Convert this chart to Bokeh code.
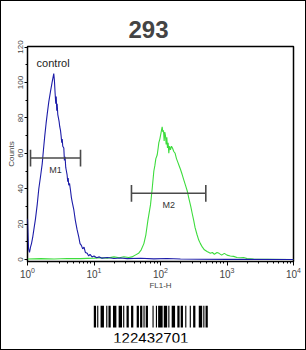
import numpy as np
from bokeh.plotting import figure
from bokeh.layouts import column
from bokeh.models import (ColumnDataSource, Range1d, FixedTicker, SingleIntervalTicker)
from bokeh.core.properties import value
from bokeh.embed import file_html
from bokeh.resources import INLINE

# ---------------- data ----------------
title_text = "293"
x_label = "FL1-H"
y_label = "Counts"
y_ticks = [0, 20, 40, 60, 80, 100, 120]
x_decades = [0, 1, 2, 3, 4]

# control histogram (blue): log10(FL1-H) and counts
control_log10 = [0.000, 0.008, 0.016, 0.03, 0.045, 0.06, 0.08, 0.10, 0.12, 0.146, 0.17, 0.20,
                 0.221, 0.24, 0.26, 0.28, 0.296, 0.32, 0.346, 0.37, 0.395, 0.405, 0.415, 0.425,
                 0.432, 0.44, 0.446, 0.455, 0.465, 0.475, 0.485, 0.496, 0.505, 0.515, 0.522,
                 0.53, 0.546, 0.555, 0.565, 0.575, 0.585, 0.595, 0.605, 0.612, 0.62, 0.632,
                 0.647, 0.66, 0.675, 0.697, 0.72, 0.745, 0.77, 0.79, 0.81, 0.83, 0.85, 0.87,
                 0.898, 0.92, 0.94, 0.97, 1.0, 1.04, 1.08, 1.12, 1.2, 1.3, 1.4, 1.5, 1.7, 1.9,
                 2.1, 2.3, 2.6, 3.0, 4.0]
control_counts = [23, 14, 6, 4, 7, 9, 13, 18, 23, 31, 40, 48,
                  54, 62, 70, 77, 82, 89, 95, 100, 105, 101, 94, 88,
                  92, 84, 88, 82, 80, 78, 75, 73, 70, 66, 68,
                  64, 63, 56, 58, 52, 50, 48, 44, 46, 42, 43,
                  39, 35, 32, 28, 22, 17, 13, 9, 8, 6, 7, 4,
                  3.5, 2, 3, 1.5, 2, 1, 1.5, 0.8, 1.2, 0.6, 0.9, 0.5, 0.7, 0.4,
                  0.6, 0.3, 0.2, 0.1, 0]

# stained sample histogram (green)
sample_log10 = [0.0, 0.2, 0.4, 0.6, 0.8, 1.0, 1.1, 1.2, 1.3, 1.38, 1.45, 1.52, 1.57, 1.62,
                1.67, 1.71, 1.75, 1.78, 1.81, 1.85, 1.875, 1.90, 1.915, 1.93, 1.95, 1.965,
                1.975, 1.99, 2.005, 2.025, 2.035, 2.045, 2.055, 2.065, 2.075, 2.085, 2.095,
                2.105, 2.115, 2.125, 2.135, 2.15, 2.165, 2.18, 2.2, 2.22, 2.24, 2.26, 2.28,
                2.30, 2.326, 2.35, 2.375, 2.40, 2.43, 2.455, 2.477, 2.50, 2.52, 2.55, 2.575,
                2.60, 2.63, 2.66, 2.70, 2.75, 2.78, 2.81, 2.85, 2.88, 2.92, 2.96, 3.0, 3.05,
                3.1, 3.15, 3.2, 3.25, 3.3, 3.4, 3.6, 4.0]
sample_counts = [0.3, 0.5, 0.3, 0.6, 0.5, 0.8, 1.0, 0.8, 1.5, 1.0, 1.6, 1.2, 1.5, 2.5,
                 3.5, 5.5, 9, 14, 22, 31, 40, 50, 53, 57, 59, 63,
                 66, 68, 71, 75, 72, 73, 67, 72, 70, 65, 69,
                 63, 66, 60, 64, 62, 64, 63, 61, 60, 57, 55, 53,
                 51, 48, 45, 42, 39, 34, 30, 26, 22, 18, 14, 11,
                 9, 7, 5.5, 4.5, 3.5, 4, 3, 4, 3.5, 2.5, 3.5, 2.5, 2,
                 1.8, 1.2, 1, 1.2, 0.6, 0.3, 0.2, 0]

marker_names = ["M1", "M2"]
marker_lo = [1.11, 36.6]
marker_hi = [6.27, 480.0]
marker_level = [57.3, 37.4]

control_label = "control"
control_label_x = 1.37
control_label_y = 111

barcode_text = "122432701"
# Code 128 module widths (bar, space, bar, ...) for each symbol
barcode_patterns = ["211232", "112232", "311222", "232121", "112412",
                    "114131", "123221", "221312", "2331112"]

# ---------------- layout constants ----------------
FRAME_L, FRAME_W, FRAME_R = 26, 266, 12
BAR_PX_LEFT, BAR_PX_WIDTH = 66.3, 114.0   # barcode position inside the frame (pixels)

blue = "#1c1ca8"
green = "#3ddc3d"
font = "Liberation Sans"

# ---------------- main plot ----------------
p = figure(width=304, height=294, frame_width=FRAME_W, frame_height=215,
           min_border_left=FRAME_L, min_border_right=FRAME_R, min_border_top=45, min_border_bottom=34,
           x_axis_type="log", x_range=Range1d(1, 10000), y_range=Range1d(-1.1, 120.3),
           output_backend="svg", toolbar_location=None, title=title_text)

p.title.text_font = font
p.title.text_font_size = "24px"
p.title.text_font_style = "bold"
p.title.align = "left"
p.title.offset = 101
p.title.standoff = 17

p.background_fill_color = "white"
p.border_fill_color = "white"
p.outline_line_color = "black"
p.outline_line_width = 1.5
p.xgrid.visible = False
p.ygrid.visible = False

csrc = ColumnDataSource(dict(x=[10 ** v for v in control_log10], y=control_counts))
ssrc = ColumnDataSource(dict(x=[10 ** v for v in sample_log10], y=sample_counts))
p.line("x", "y", source=ssrc, line_color=green, line_width=1.1)
p.line("x", "y", source=csrc, line_color=blue, line_width=1.1)

# markers
half = 4.7
msrc = ColumnDataSource(dict(lo=marker_lo, hi=marker_hi, lev=marker_level,
                             top=[v + half for v in marker_level],
                             bot=[v - half for v in marker_level],
                             mid=[np.sqrt(a * b) for a, b in zip(marker_lo, marker_hi)],
                             ty=[v - 6.5 for v in marker_level],
                             name=marker_names))
p.segment(x0="lo", y0="lev", x1="hi", y1="lev", source=msrc, line_color="#4a4a4a", line_width=1.6)
p.segment(x0="lo", y0="bot", x1="lo", y1="top", source=msrc, line_color="#4a4a4a", line_width=1.6)
p.segment(x0="hi", y0="bot", x1="hi", y1="top", source=msrc, line_color="#4a4a4a", line_width=1.6)
p.text(x="mid", y="ty", text="name", source=msrc, text_font=value(font),
       text_font_size="9px", text_align="center", text_baseline="middle", text_color="#333333")

p.text(x=[control_label_x], y=[control_label_y], text=[control_label], text_font=value(font),
       text_font_size="11px", text_align="left", text_baseline="middle", text_color="#222222")

# axes
xa = p.xaxis[0]
xa.ticker = FixedTicker(ticks=[10 ** d for d in x_decades],
                        minor_ticks=[m * 10 ** d for d in x_decades[:-1] for m in range(2, 10)])
xa.axis_label = x_label
xa.axis_label_text_font = font
xa.axis_label_text_font_size = "8px"
xa.axis_label_text_font_style = "normal"
xa.axis_label_standoff = 0
xa.major_label_text_font = font
xa.major_label_text_font_size = "10px"
xa.major_label_standoff = 1
xa.major_tick_out = 4
xa.major_tick_in = 0
xa.minor_tick_out = 2
xa.minor_tick_in = 0
xa.axis_line_color = None

ya = p.yaxis[0]
ya.ticker = SingleIntervalTicker(interval=20, num_minor_ticks=2)
ya.axis_label = y_label
ya.axis_label_text_font = font
ya.axis_label_text_font_size = "8px"
ya.axis_label_text_font_style = "normal"
ya.axis_label_standoff = 0
ya.major_label_text_font = font
ya.major_label_text_font_size = "8px"
ya.major_label_orientation = "vertical"
ya.major_label_standoff = 1
ya.major_tick_out = 3
ya.major_tick_in = 0
ya.minor_tick_out = 2
ya.minor_tick_in = 0
ya.axis_line_color = None

# ---------------- barcode ----------------
n_modules = sum(sum(int(c) for c in pat) for pat in barcode_patterns)
mod_px = BAR_PX_WIDTH / n_modules
bx0 = -BAR_PX_LEFT / mod_px
bx1 = (FRAME_W - BAR_PX_LEFT) / mod_px

b = figure(width=304, height=54, frame_width=FRAME_W, frame_height=37,
           min_border_left=FRAME_L, min_border_right=FRAME_R, min_border_top=10, min_border_bottom=7,
           x_range=Range1d(bx0, bx1), y_range=Range1d(0, 37),
           output_backend="svg", toolbar_location=None)
b.axis.visible = False
b.grid.visible = False
b.outline_line_color = None
b.border_fill_color = "white"

lefts, rights = [], []
pos = 0
for pat in barcode_patterns:
    for i, c in enumerate(pat):
        w = int(c)
        if i % 2 == 0:
            lefts.append(pos)
            rights.append(pos + w)
        pos += w
b.quad(left=lefts, right=rights, bottom=15, top=37, fill_color="black", line_color=None)
b.text(x=[n_modules / 2], y=[5], text=[barcode_text], text_font=value(font),
       text_font_size="15px", text_align="center", text_baseline="middle", text_color="black")

layout = column(p, b, spacing=0, styles={"border": "1px solid black"})

with open("out.html", "w") as f:
    f.write(file_html(layout, INLINE))
